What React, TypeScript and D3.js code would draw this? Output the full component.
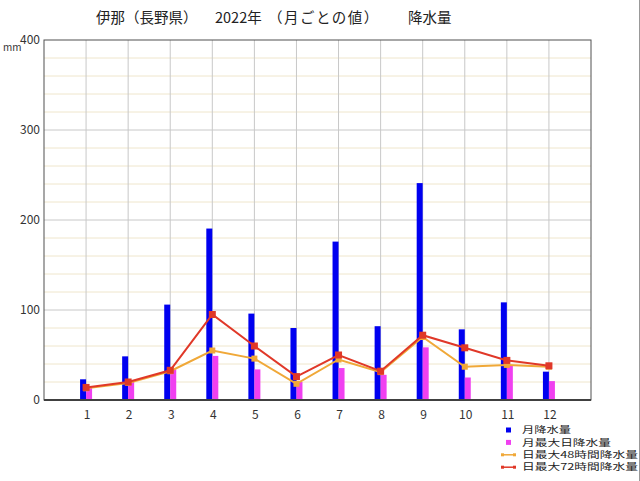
import { useEffect } from 'react';
import * as d3 from 'd3';

const months = [1, 2, 3, 4, 5, 6, 7, 8, 9, 10, 11, 12];
// 月降水量
const monthlyTotal = [23, 48.5, 106, 190.5, 96, 80, 176, 82, 241, 78.5, 108.5, 31.5];
// 月最大日降水量
const maxDaily = [14, 20, 34, 49, 34, 20, 35.5, 28, 58.5, 25, 38, 21];
// 日最大48時間降水量
const max48h = [13, 19, 32, 55, 46, 18, 45, 31, 70, 37, 39, 37];
// 日最大72時間降水量
const max72h = [14, 20, 33, 95, 60, 26, 50, 32, 72, 58, 44, 38];
const yTicks = [0, 100, 200, 300, 400];

const width = 640;
const height = 481;
const left = 44;
const right = 591;
const top = 40;
const bottom = 400;

const font = '"Noto Sans CJK JP", "Noto Sans", sans-serif';
const blue = '#0000f0';
const pink = '#f040f0';
const orange = '#f0a838';
const red = '#e03828';

export default function App(): JSX.Element {
  useEffect(() => {
    document.body.style.margin = '0';
  }, []);

  const x = d3.scaleLinear().domain([0, 13]).range([left, right]);
  const y = d3.scaleLinear().domain([0, 400]).range([bottom, top]);
  const minor = d3.range(20, 400, 20).filter((v) => v % 100 !== 0);

  const line = d3
    .line<number>()
    .x((_, i) => x(months[i]))
    .y((v) => y(v));

  const legend = [
    { label: '月降水量', kind: 'box', color: blue, w: 49 },
    { label: '月最大日降水量', kind: 'box', color: pink, w: 89 },
    { label: '日最大48時間降水量', kind: 'line', color: orange, w: 116 },
    { label: '日最大72時間降水量', kind: 'line', color: red, w: 116 },
  ];

  return (
    <svg width={width} height={height} style={{ display: 'block', background: '#fff' }}>
      {/* title */}
      <g fontFamily={font} fontSize={14.5} fill="#222">
        <text x={96} y={23}>伊那（長野県）</text>
        <text x={215} y={23}>2022年</text>
        <text x={268} y={23} letterSpacing={1.5}>（月ごとの値）</text>
        <text x={408} y={23}>降水量</text>
      </g>

      {/* grid */}
      {minor.map((v) => (
        <line key={'m' + v} x1={left} x2={right} y1={y(v)} y2={y(v)} stroke="#efe6cc" />
      ))}
      {yTicks.slice(1, -1).map((v) => (
        <line key={'h' + v} x1={left} x2={right} y1={y(v)} y2={y(v)} stroke="#c8c8c8" />
      ))}
      {months.map((m) => (
        <line key={'v' + m} x1={x(m)} x2={x(m)} y1={top} y2={bottom} stroke="#c8c8c8" />
      ))}

      {/* bars */}
      {months.map((m, i) => (
        <g key={'b' + m}>
          <rect x={x(m) - 6} y={y(monthlyTotal[i])} width={6} height={bottom - y(monthlyTotal[i])} fill={blue} />
          <rect x={x(m)} y={y(maxDaily[i])} width={6} height={bottom - y(maxDaily[i])} fill={pink} />
        </g>
      ))}

      {/* lines */}
      <path d={line(max48h) ?? ''} fill="none" stroke={orange} strokeWidth={2} />
      {max48h.map((v, i) => (
        <rect key={'o' + i} x={x(months[i]) - 3} y={y(v) - 3} width={6} height={6} fill={orange} />
      ))}
      <path d={line(max72h) ?? ''} fill="none" stroke={red} strokeWidth={2} />
      {max72h.map((v, i) => (
        <rect key={'r' + i} x={x(months[i]) - 3.5} y={y(v) - 3.5} width={7} height={7} fill={red} />
      ))}

      {/* frame */}
      <rect x={left} y={top} width={right - left} height={bottom - top} fill="none" stroke="#505050" />
      <line x1={left} x2={right} y1={bottom} y2={bottom} stroke="#404040" strokeWidth={2} />

      {/* y axis */}
      <g fontFamily={font} fontSize={12} fill="#333" textAnchor="end">
        {yTicks.map((v) => (
          <text key={'y' + v} x={40} y={y(v)} dy="0.35em">
            {v}
          </text>
        ))}
      </g>
      <text x={3} y={51} fontFamily={font} fontSize={10} fill="#333">
        mm
      </text>

      {/* x axis */}
      <g fontFamily={font} fontSize={12} fill="#333" textAnchor="middle">
        {months.map((m) => (
          <text key={'x' + m} x={x(m) + 1} y={415} dy="0.35em">
            {m}
          </text>
        ))}
      </g>

      {/* legend */}
      <g fontFamily={font} fontSize={8.6} fill="#222">
        {legend.map((d, i) => {
          const cy = 430 + i * 12.4;
          return (
            <g key={d.label}>
              {d.kind === 'box' ? (
                <rect x={506} y={cy - 2.5} width={5} height={5} fill={d.color} />
              ) : (
                <g>
                  <line x1={501} x2={516} y1={cy} y2={cy} stroke={d.color} strokeWidth={1.5} />
                  <rect x={501} y={cy - 1.5} width={3} height={3} fill={d.color} />
                  <rect x={513} y={cy - 1.5} width={3} height={3} fill={d.color} />
                </g>
              )}
              <text x={522} y={cy} dy="0.38em" textLength={d.w} lengthAdjust="spacingAndGlyphs">
                {d.label}
              </text>
            </g>
          );
        })}
      </g>

      {/* page border */}
      <line x1={639.5} x2={639.5} y1={0} y2={height} stroke="#999" />
    </svg>
  );
}
